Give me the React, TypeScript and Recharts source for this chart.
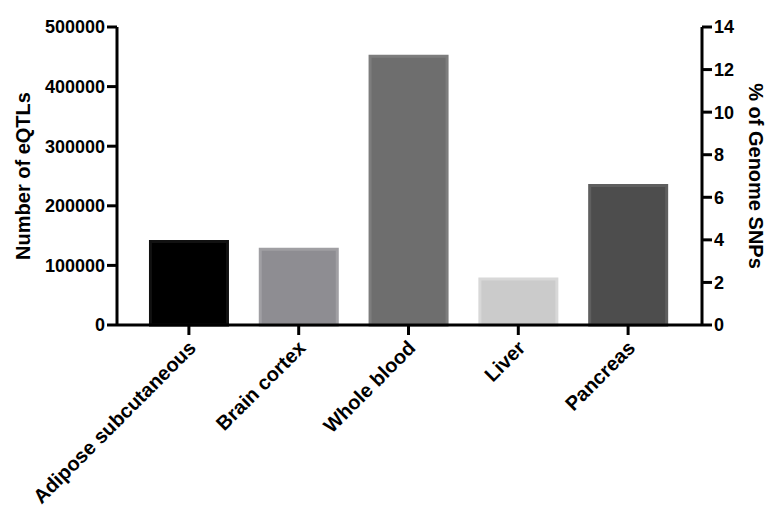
import React from 'react';
import { BarChart, Bar, XAxis, YAxis, Cell } from 'recharts';

const categories = ['Adipose subcutaneous', 'Brain cortex', 'Whole blood', 'Liver', 'Pancreas'];
const eqtls = [140000, 127000, 451000, 77000, 234000];
const fills = ['#000000', '#8e8d92', '#6e6e6e', '#cbcbcb', '#4d4d4d'];
const strokes = ['#111111', '#a09fa3', '#7d7d7d', '#d8d8d8', '#5f5f5f'];
const leftTicks = [0, 100000, 200000, 300000, 400000, 500000];
const rightTicks = [0, 2, 4, 6, 8, 10, 12, 14];

const data = categories.map((c, i) => ({ name: c, eqtls: eqtls[i] }));

const FONT = '"Liberation Sans", Arial, sans-serif';

const XTick = (props: any) => {
  const { x, y, payload } = props;
  return (
    <g transform={`translate(${x - 1},${y + 3})`}>
      <text
        x={0}
        y={0}
        dy={13}
        textAnchor="end"
        transform="rotate(-45)"
        fontFamily={FONT}
        fontWeight="bold"
        fontSize={20}
        fill="#000"
      >
        {payload.value}
      </text>
    </g>
  );
};

export default function App() {
  return (
    <div style={{ position: 'absolute', left: 0, top: 0, background: '#fff' }}>
      <BarChart
        width={784}
        height={507}
        data={data}
        margin={{ top: 27, right: 0, bottom: 0, left: 0 }}
        barCategoryGap="15%"
      >
        <XAxis
          dataKey="name"
          interval={0}
          tick={<XTick />}
          tickSize={10}
          height={182}
          padding={{ left: 17, right: 19 }}
          axisLine={{ stroke: '#000', strokeWidth: 3 }}
          tickLine={{ stroke: '#000', strokeWidth: 3 }}
        />
        <YAxis
          yAxisId="left"
          orientation="left"
          width={117}
          domain={[0, 500000]}
          ticks={leftTicks}
          interval={0}
          tickSize={10}
          tickMargin={2}
          axisLine={{ stroke: '#000', strokeWidth: 3 }}
          tickLine={{ stroke: '#000', strokeWidth: 3 }}
          tick={{ fontFamily: FONT, fontWeight: 'bold', fontSize: 18, fill: '#000' }}
          label={{
            value: 'Number of eQTLs',
            angle: -90,
            position: 'insideLeft',
            offset: 23,
            style: { fontFamily: FONT, fontWeight: 'bold', fontSize: 20, fill: '#000', textAnchor: 'middle' },
          }}
        />
        <YAxis
          yAxisId="right"
          orientation="right"
          width={82}
          domain={[0, 14]}
          ticks={rightTicks}
          interval={0}
          tickSize={10}
          tickMargin={2}
          allowDataOverflow
          axisLine={{ stroke: '#000', strokeWidth: 3 }}
          tickLine={{ stroke: '#000', strokeWidth: 3 }}
          tick={{ fontFamily: FONT, fontWeight: 'bold', fontSize: 18, fill: '#000' }}
          label={{
            value: '% of Genome SNPs',
            angle: 90,
            position: 'insideRight',
            offset: 28,
            style: { fontFamily: FONT, fontWeight: 'bold', fontSize: 20, fill: '#000', textAnchor: 'middle' },
          }}
        />
        <Bar yAxisId="left" dataKey="eqtls" isAnimationActive={false} strokeWidth={3}>
          {data.map((d, i) => (
            <Cell key={d.name} fill={fills[i]} stroke={strokes[i]} />
          ))}
        </Bar>
      </BarChart>
    </div>
  );
}
